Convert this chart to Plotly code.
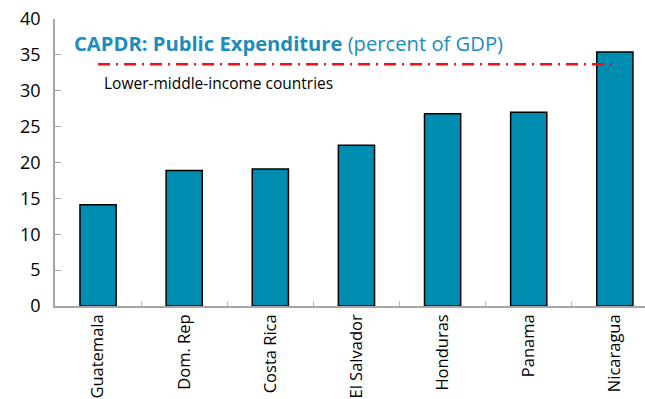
import plotly.graph_objects as go

countries = ["Guatemala", "Dom. Rep", "Costa Rica", "El Salvador", "Honduras", "Panama", "Nicaragua"]
expenditure = [14.1, 18.9, 19.1, 22.4, 26.8, 27.0, 35.4]
lmic_level = 33.7
y_ticks = [0, 5, 10, 15, 20, 25, 30, 35, 40]

FONT = "Open Sans"
BAR_COLOR = "#008DB2"
TITLE_COLOR = "#1B8DBB"

fig = go.Figure()
fig.add_trace(go.Bar(
    x=countries, y=expenditure, width=0.42,
    marker=dict(color=BAR_COLOR, line=dict(color="black", width=1.5)),
    showlegend=False,
))
fig.add_trace(go.Scatter(
    x=[countries[0], countries[-1]], y=[lmic_level, lmic_level],
    mode="lines", line=dict(color="#E8121A", width=2.5, dash="12px,6px,2px,6px"),
    showlegend=False,
))

fig.add_annotation(
    xref="paper", yref="y", x=0.028, y=36.7, xanchor="left", yanchor="middle",
    text="<b>CAPDR: Public Expenditure</b> (percent of GDP)",
    showarrow=False, font=dict(family=FONT, size=20.2, color=TITLE_COLOR),
)
fig.add_annotation(
    xref="paper", yref="y", x=0.08, y=31.1, xanchor="left", yanchor="middle",
    text="Lower-middle-income countries",
    showarrow=False, font=dict(family=FONT, size=15.5, color="black"),
)

fig.update_layout(
    width=645, height=399,
    margin=dict(l=55, r=0, t=19, b=91),
    paper_bgcolor="white", plot_bgcolor="white",
    font=dict(family=FONT, color="black"),
    bargap=0.58,
)
fig.update_xaxes(
    type="category", range=[-0.5, 6.35],
    showline=True, linecolor="#A6A6A6", linewidth=1.5,
    tickangle=-90, tickfont=dict(size=16.5),
    ticks="inside", tickson="boundaries", ticklen=5, tickcolor="#BFBFBF",
    showgrid=False,
)
fig.update_yaxes(
    range=[0, 40], tickvals=y_ticks,
    showline=True, linecolor="#A6A6A6", linewidth=1.5,
    ticks="inside", ticklen=6, tickcolor="#A6A6A6",
    tickfont=dict(size=18), showgrid=False, zeroline=False,
    ticklabelstandoff=9,
)

fig.write_html("out.html")
